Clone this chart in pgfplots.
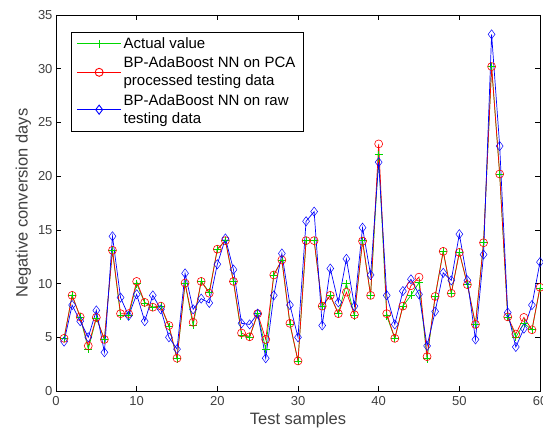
\documentclass[border=0pt]{standalone}
\usepackage{pgfplots}
\pgfplotsset{compat=1.18}
\usepackage{pgfplotstable}
\usepackage{fontspec}
\setmainfont{Liberation Sans}
\definecolor{mgreen}{RGB}{0,215,0}
\pgfplotstableread{
x act pca raw
1 4.9 4.9 4.6
2 8.9 8.9 8.0
3 6.9 6.9 6.5
4 3.9 4.2 5.0
5 6.8 6.85 7.5
6 4.8 4.8 3.6
7 13.1 13.1 14.4
8 7.0 7.2 8.7
9 7.0 7.2 7.0
10 10.0 10.2 9.0
11 8.2 8.25 6.5
12 7.8 7.8 8.9
13 7.9 7.9 7.6
14 6.0 6.1 5.0
15 3.0 3.05 3.9
16 10.0 10.05 10.95
17 6.1 6.4 7.6
18 10.2 10.2 8.6
19 9.2 9.1 8.2
20 13.2 13.2 11.8
21 14.0 14.0 14.2
22 10.2 10.2 11.3
23 5.2 5.4 6.3
24 5.0 5.05 6.2
25 7.2 7.2 7.2
26 3.9 4.8 3.05
27 10.8 10.8 8.9
28 12.2 12.2 12.8
29 6.2 6.3 8.0
30 2.8 2.8 5.0
31 14.0 14.0 15.8
32 14.0 14.0 16.7
33 7.9 7.9 6.1
34 8.9 8.9 11.4
35 7.2 7.2 8.25
36 10.0 9.2 12.3
37 7.0 7.1 7.9
38 14.0 13.95 15.2
39 8.9 8.9 10.8
40 22.0 23.0 21.3
41 7.0 7.2 8.9
42 4.9 4.9 6.2
43 7.9 7.9 9.3
44 8.9 9.8 10.4
45 10.1 10.6 9.0
46 3.0 3.2 4.2
47 8.8 8.8 7.4
48 13.0 13.0 11.0
49 9.1 9.1 10.3
50 12.9 12.9 14.6
51 9.9 9.9 10.3
52 6.2 6.2 4.8
53 13.8 13.8 12.7
54 30.2 30.2 33.2
55 20.2 20.2 22.8
56 6.9 6.9 7.3
57 5.0 5.3 4.1
58 6.3 6.85 5.8
59 5.7 5.7 8.0
60 9.6 9.65 12.0
}\datatable
\begin{document}
\begin{tikzpicture}
\begin{axis}[
  name=ax,
  scale only axis,
  width=484pt, height=376pt,
  xmin=0, xmax=60, ymin=0, ymax=35,
  xtick={0,10,...,60}, ytick={0,5,...,35},
  tick align=inside, major tick length=5pt,
  tick style={black, line width=0.6pt},
  axis line style={line width=0.6pt},
  /pgf/number format/assume math mode=true,
  tick label style={font=\fontsize{13}{15}\selectfont, text=black!75},
  xticklabel style={yshift=-2pt},
  xlabel={Test samples}, ylabel={Negative conversion days},
  label style={font=\fontsize{16.5}{19}\selectfont, text=black!75},
  clip=false,
  legend cell align=left,
  legend style={at={(0.03,0.956)}, anchor=north west,
    font=\fontsize{15}{18}\selectfont,
    nodes={align=left, inner xsep=2pt},
    row sep=3pt, inner xsep=6pt, inner ysep=4pt},
  legend image code/.code={
    \draw[#1, mark repeat=2,mark phase=2] plot coordinates {(0pt,0pt) (22pt,0pt) (44pt,0pt)};
  },
]
\addlegendimage{draw=mgreen, color=mgreen, line width=0.9pt, mark=+, mark size=4pt}
\addlegendentry{Actual value}
\addlegendimage{draw=red, color=red, line width=0.9pt, mark=o, mark size=4pt}
\addlegendentry{BP-AdaBoost NN on PCA\\processed testing data}
\addlegendimage{draw=blue, color=blue, line width=0.9pt, mark=diamond, mark size=4.6pt}
\addlegendentry{BP-AdaBoost NN on raw\\testing data}
\addplot[forget plot, color=mgreen, line width=0.7pt, mark=+, mark size=4pt] table[x=x,y=act] {\datatable};
\addplot[forget plot, color=red, line width=0.7pt, mark=o, mark size=4pt, mark options={line width=0.6pt}] table[x=x,y=pca] {\datatable};
\addplot[forget plot, color=blue, line width=0.7pt, mark=diamond, mark size=4.6pt, mark options={line width=0.5pt}] table[x=x,y=raw] {\datatable};
\end{axis}
\pgfresetboundingbox
\path ([xshift=-56pt,yshift=-42pt]ax.south west) rectangle ([xshift=3pt,yshift=15pt]ax.north east);
\end{tikzpicture}
\end{document}
